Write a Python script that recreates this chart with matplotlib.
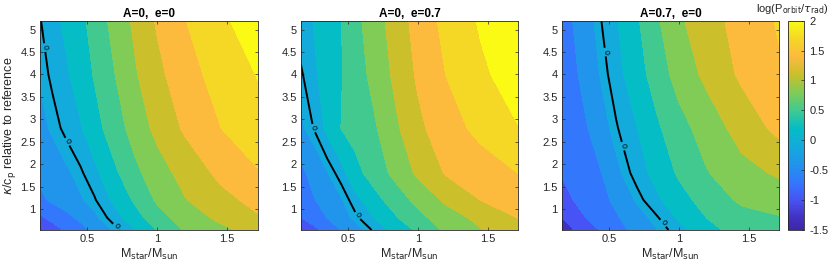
import numpy as np
import matplotlib
matplotlib.use("Agg")
import matplotlib.pyplot as plt
from matplotlib.colors import LinearSegmentedColormap, Normalize

plt.rcParams['font.family'] = ['Liberation Sans', 'DejaVu Sans']

# ---- data ----
mass = [0.16, 0.25, 0.35, 0.45, 0.55, 0.70, 0.85, 1.00, 1.20, 1.45, 1.72]
kappa = [0.53, 0.8, 1.2, 1.8, 2.8, 4.0, 5.2]

z_A0_e0 = [
    [-0.96, -0.82, -0.67, -0.51, -0.34, -0.05, 0.20, 0.50, 0.82, 1.02, 1.24],
    [-0.76, -0.63, -0.50, -0.34, -0.16, 0.10, 0.39, 0.67, 0.93, 1.16, 1.37],
    [-0.47, -0.35, -0.24, -0.13, -0.02, 0.26, 0.56, 0.84, 1.08, 1.31, 1.48],
    [-0.33, -0.24, -0.14, -0.03, 0.12, 0.45, 0.74, 0.96, 1.21, 1.46, 1.67],
    [-0.17, -0.07, 0.05, 0.17, 0.38, 0.67, 0.93, 1.18, 1.44, 1.69, 1.91],
    [-0.08, 0.04, 0.16, 0.33, 0.52, 0.80, 1.08, 1.32, 1.58, 1.81, 2.01],
    [-0.01, 0.11, 0.26, 0.42, 0.61, 0.91, 1.17, 1.43, 1.69, 1.93, 2.18],
]
z_A0_e07 = [
    [-0.95, -0.80, -0.60, -0.40, -0.22, 0.06, 0.29, 0.55, 0.85, 1.08, 1.30],
    [-0.72, -0.57, -0.40, -0.23, -0.05, 0.22, 0.48, 0.71, 0.95, 1.18, 1.40],
    [-0.58, -0.43, -0.28, -0.13, 0.10, 0.41, 0.66, 0.88, 1.15, 1.40, 1.52],
    [-0.48, -0.31, -0.12, 0.09, 0.39, 0.66, 0.89, 1.15, 1.42, 1.55, 1.70],
    [-0.15, 0.00, 0.25, 0.50, 0.61, 0.78, 1.06, 1.33, 1.57, 1.78, 1.99],
    [-0.03, 0.14, 0.32, 0.48, 0.65, 0.91, 1.18, 1.44, 1.70, 1.95, 2.13],
    [0.12, 0.20, 0.34, 0.49, 0.71, 0.98, 1.25, 1.51, 1.78, 2.03, 2.25],
]
z_A07_e0 = [
    [-1.15, -1.00, -0.83, -0.67, -0.52, -0.31, -0.10, 0.10, 0.40, 0.62, 0.72],
    [-1.02, -0.85, -0.68, -0.56, -0.44, -0.22, -0.01, 0.23, 0.50, 0.69, 0.78],
    [-0.83, -0.69, -0.58, -0.48, -0.34, -0.07, 0.16, 0.38, 0.62, 0.85, 0.92],
    [-0.68, -0.59, -0.50, -0.40, -0.17, 0.08, 0.30, 0.54, 0.78, 1.00, 1.14],
    [-0.62, -0.52, -0.40, -0.20, -0.02, 0.19, 0.46, 0.69, 0.93, 1.22, 1.48],
    [-0.64, -0.46, -0.26, -0.07, 0.10, 0.37, 0.65, 0.91, 1.17, 1.45, 1.66],
    [-0.56, -0.38, -0.18, 0.01, 0.17, 0.46, 0.77, 1.05, 1.28, 1.51, 1.73],
]
panels = [z_A0_e0, z_A0_e07, z_A07_e0]
titles = ['A=0,  e=0', 'A=0,  e=0.7', 'A=0.7,  e=0']
label_kappas = [[4.6, 2.5, 0.6], [2.8, 0.85], [4.5, 2.4, 0.68]]
levels = [-1.3, -1.0, -0.7, -0.4, -0.1, 0.2, 0.5, 0.8, 1.1, 1.4, 1.7, 2.0]
cbar_ticks = [-1.5, -1, -0.5, 0, 0.5, 1, 1.5, 2]
xticks = [0.5, 1, 1.5]
yticks = [1, 1.5, 2, 2.5, 3, 3.5, 4, 4.5, 5]

# ---- parula-like colormap ----
anchors = [
    (0.000, (0.24, 0.15, 0.66)),
    (0.057, (0.26, 0.19, 0.76)),
    (0.143, (0.28, 0.33, 0.96)),
    (0.229, (0.20, 0.47, 0.99)),
    (0.314, (0.13, 0.58, 0.92)),
    (0.400, (0.07, 0.67, 0.86)),
    (0.486, (0.02, 0.74, 0.77)),
    (0.571, (0.25, 0.79, 0.57)),
    (0.657, (0.50, 0.80, 0.34)),
    (0.743, (0.79, 0.75, 0.17)),
    (0.829, (0.99, 0.73, 0.24)),
    (0.914, (0.96, 0.84, 0.15)),
    (1.000, (0.98, 0.98, 0.08)),
]
cmap = LinearSegmentedColormap.from_list('parula_like', anchors)
vmin, vmax = -1.5, 2.0
norm = Normalize(vmin, vmax)

fill_levels = [-3.0] + levels + [4.0]
band_colors = [cmap(0.0)] + [cmap(norm(l)) for l in levels]

fig = plt.figure(figsize=(8.31, 2.69), dpi=100)
W, H = 831.0, 269.0
lefts = [40.0, 300.7, 561.7]
aw, top, bot = 217.7, 20.7, 230.0
axc = '0.15'

X, Y = np.meshgrid(mass, kappa)
for i, (z, t) in enumerate(zip(panels, titles)):
    ax = fig.add_axes([lefts[i] / W, (H - bot) / H, aw / W, (bot - top) / H])
    Z = np.array(z)
    cf = ax.contourf(X, Y, Z, levels=fill_levels, colors=band_colors)
    cf.set_edgecolor('face')
    cf.set_linewidth(0.4)
    cs = ax.contour(X, Y, Z, levels=[0], colors='k', linewidths=1.4)
    # place labels on the computed zero line at chosen kappa heights
    seg = max(cs.allsegs[0], key=len)
    order = np.argsort(seg[:, 1])
    ys, xs = seg[order, 1], seg[order, 0]
    spots = [(float(np.interp(kv, ys, xs)), kv) for kv in label_kappas[i]]
    ax.clabel(cs, fmt='%g', fontsize=6, inline=True, inline_spacing=2,
              manual=spots)
    ax.set_xlim(mass[0], mass[-1])
    ax.set_ylim(kappa[0], kappa[-1])
    ax.set_xticks(xticks)
    ax.set_xticklabels(['0.5', '1', '1.5'])
    ax.set_yticks(yticks)
    ax.set_yticklabels(['1', '1.5', '2', '2.5', '3', '3.5', '4', '4.5', '5'])
    ax.tick_params(direction='in', length=2.5, width=0.5, labelsize=8,
                   colors=axc, top=True, right=True, pad=3)
    for s in ax.spines.values():
        s.set_color(axc)
        s.set_linewidth(0.6)
    ax.set_title(t, fontsize=8.5, fontweight='bold', pad=3)
    ax.set_xlabel(r'M$_{\rm star}$/M$_{\rm sun}$', fontsize=9, color=axc, labelpad=2)
    if i == 0:
        ax.set_ylabel(r'$\kappa$/c$_{\rm p}$ relative to reference', fontsize=9,
                      color=axc, labelpad=2)

cax = fig.add_axes([788.3 / W, (H - bot) / H, 16.0 / W, (bot - top) / H])
sm = matplotlib.cm.ScalarMappable(norm=norm, cmap=cmap)
cb = fig.colorbar(sm, cax=cax, ticks=cbar_ticks)
cb.ax.set_yticklabels(['-1.5', '-1', '-0.5', '0', '0.5', '1', '1.5', '2'])
cb.ax.tick_params(direction='in', length=2.5, width=0.5, labelsize=8, colors=axc)
cb.outline.set_color(axc)
cb.outline.set_linewidth(0.6)
fig.text(829 / W, (H - 9) / H, r'log(P$_{\rm orbit}$/$\tau_{\rm rad}$)', fontsize=8,
         ha='right', va='center', color=axc)

fig.savefig('out.png', dpi=100)
